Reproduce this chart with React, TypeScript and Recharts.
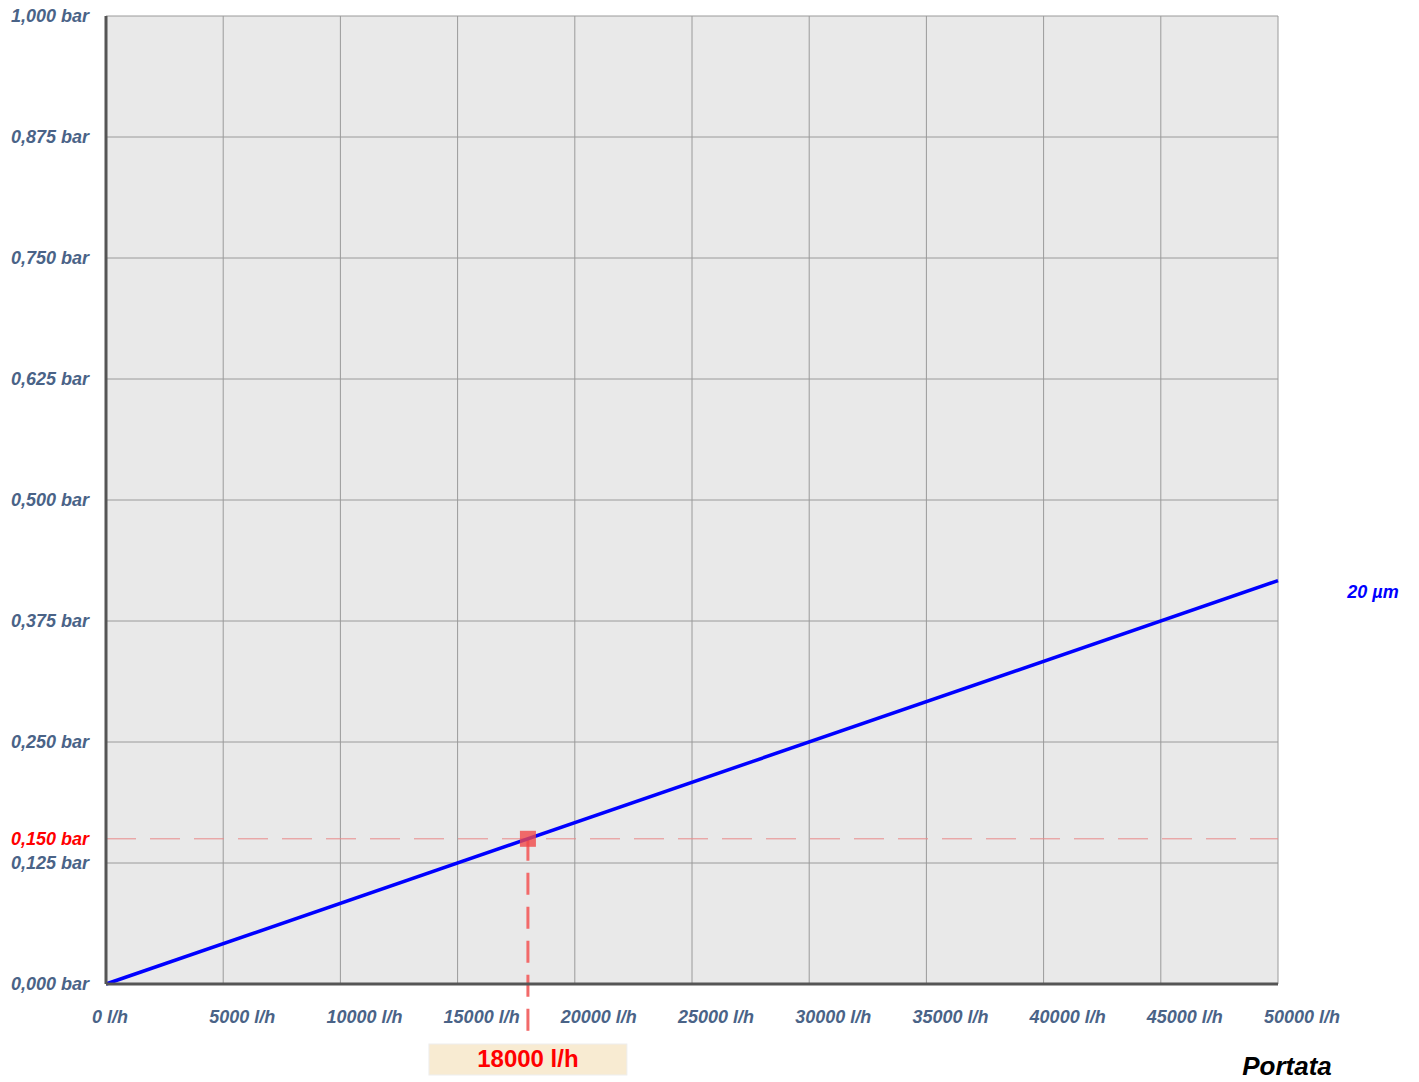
import React from 'react';
import { LineChart, Line, XAxis, YAxis, CartesianGrid, ReferenceLine, ReferenceDot } from 'recharts';

const flowValues = [0, 50000];
const pressureValues = [0, 0.4167];
const xTicks = [0, 5000, 10000, 15000, 20000, 25000, 30000, 35000, 40000, 45000, 50000];
const yTicks = [0, 0.125, 0.25, 0.375, 0.5, 0.625, 0.75, 0.875, 1];
const seriesName = '20 µm';
const axisTitle = 'Portata';
const selectedFlow = 18000;
const selectedPressure = 0.15;

const data = flowValues.map((x, i) => ({ flow: x, pressure: pressureValues[i] }));

const FONT = "'Liberation Sans', Arial, sans-serif";
const TICK_COLOR = '#4a6387';

const fmtBar = (v: number) => v.toFixed(3).replace('.', ',') + ' bar';
const fmtFlow = (v: number) => `${v} l/h`;

const XTick = (props: any) => {
  const { x, y, payload } = props;
  return (
    <text x={x - 14} y={y + 39} textAnchor="start" fontFamily={FONT} fontSize={18} fontWeight="bold" fontStyle="italic" fill={TICK_COLOR}>
      {fmtFlow(payload.value)}
    </text>
  );
};

const YTick = (props: any) => {
  const { x, y, payload } = props;
  return (
    <text x={x - 17} y={y + 6} textAnchor="end" fontFamily={FONT} fontSize={18} fontWeight="bold" fontStyle="italic" fill={TICK_COLOR}>
      {fmtBar(payload.value)}
    </text>
  );
};

const SeriesLabel = (props: any) => {
  const { x, y, index } = props;
  if (index !== data.length - 1) return null;
  return (
    <text x={x + 95} y={y + 17} textAnchor="middle" fontFamily={FONT} fontSize={18} fontWeight="bold" fontStyle="italic" fill="#0000ff">
      {seriesName}
    </text>
  );
};

const PortataLabel = (props: any) => {
  const vb = props.viewBox;
  return (
    <text x={vb.x + vb.width + 9} y={vb.y + vb.height + 51} textAnchor="middle" fontFamily={FONT} fontSize={26} fontWeight="bold" fontStyle="italic" fill="#000">
      {axisTitle}
    </text>
  );
};

const RefYLabel = (props: any) => {
  const vb = props.viewBox;
  return (
    <text x={vb.x - 17} y={vb.y + 6} textAnchor="end" fontFamily={FONT} fontSize={18} fontWeight="bold" fontStyle="italic" fill="#ff0000">
      {fmtBar(selectedPressure)}
    </text>
  );
};

const MarkerShape = (p: any) => (
  <rect x={p.cx - 8} y={p.cy - 8} width={16} height={16} fill="#f04848" fillOpacity={0.8} />
);

const FlowBox = (p: any) => (
  <g>
    <rect x={p.cx - 99} y={p.cy + 60} width={198} height={31} fill="#f8ebd2" stroke="#eeeeee" />
    <text x={p.cx} y={p.cy + 83} textAnchor="middle" fontFamily={FONT} fontSize={24} fontWeight="bold" fill="#ff0000">
      {fmtFlow(selectedFlow)}
    </text>
  </g>
);

export default function App() {
  return (
    <div style={{ position: 'absolute', left: 0, top: 0, width: 1419, height: 1082, background: '#fff' }}>
      <LineChart width={1419} height={1082} data={data} margin={{ top: 16, right: 141, bottom: 58, left: 6 }}>
        <CartesianGrid stroke="#9a9a9a" fill="#e9e9e9" fillOpacity={1} />
        <XAxis
          dataKey="flow"
          type="number"
          domain={[0, 50000]}
          ticks={xTicks}
          interval={0}
          height={40}
          tickSize={0}
          tickMargin={0}
          tickLine={false}
          tick={<XTick />}
          axisLine={{ stroke: '#555', strokeWidth: 3 }}
          label={<PortataLabel />}
        />
        <YAxis
          type="number"
          domain={[0, 1]}
          ticks={yTicks}
          interval={0}
          width={100}
          tickSize={0}
          tickMargin={0}
          tickLine={false}
          tick={<YTick />}
          axisLine={{ stroke: '#555', strokeWidth: 3 }}
        />
        <ReferenceLine y={selectedPressure} stroke="#e88a8a" strokeWidth={1} strokeDasharray="30 14" label={<RefYLabel />} />
        <ReferenceLine
          segment={[{ x: selectedFlow, y: selectedPressure }, { x: selectedFlow, y: -0.05 }]}
          ifOverflow="visible"
          stroke="#f26a6a"
          strokeWidth={3}
          strokeDasharray="22 12"
        />
        <Line
          type="linear"
          dataKey="pressure"
          stroke="#0000ff"
          strokeWidth={3.5}
          dot={false}
          isAnimationActive={false}
          label={<SeriesLabel />}
        />
        <ReferenceDot x={selectedFlow} y={selectedPressure} shape={<MarkerShape />} />
        <ReferenceDot x={selectedFlow} y={0} ifOverflow="visible" shape={<FlowBox />} />
      </LineChart>
    </div>
  );
}
